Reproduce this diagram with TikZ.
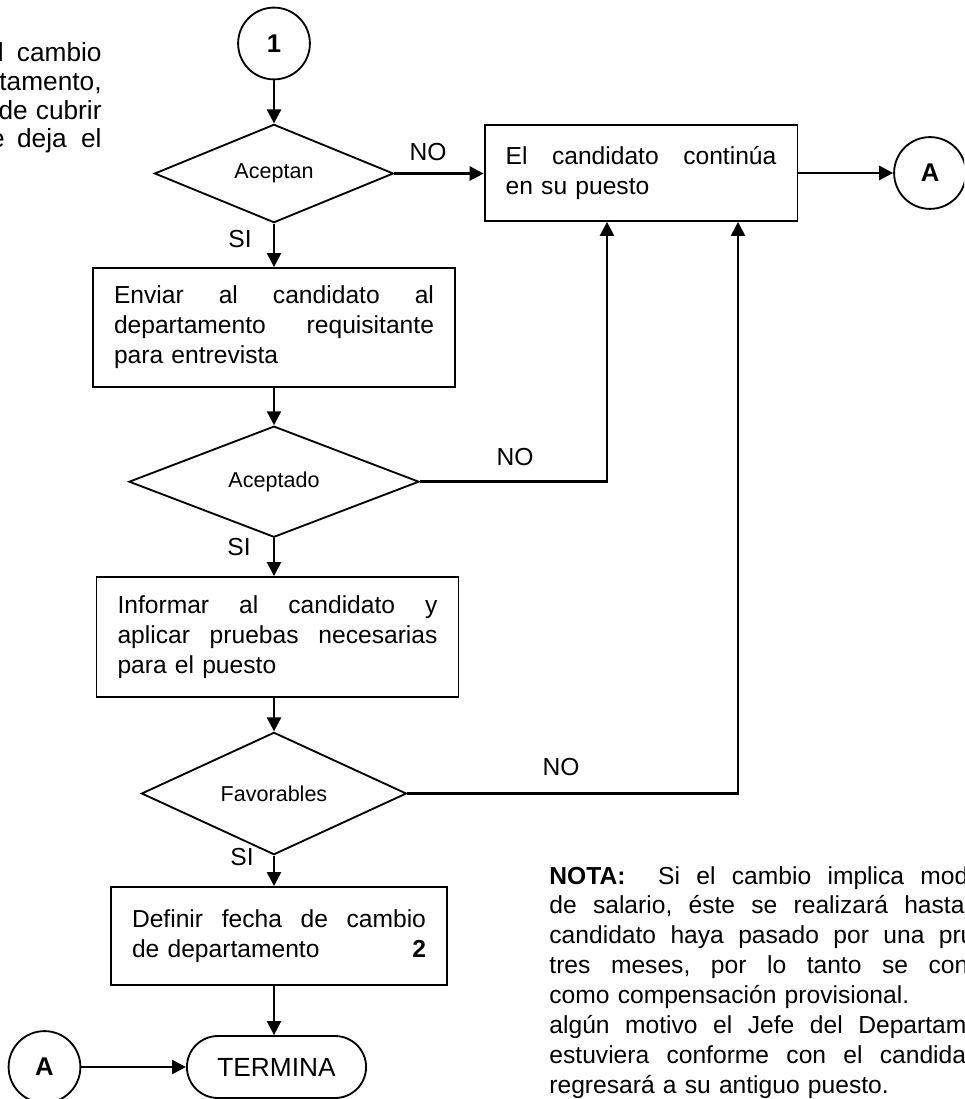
\documentclass[tikz,border=0pt]{standalone}
\usepackage{fontspec}
\setmainfont{Liberation Sans}
\usetikzlibrary{shapes.geometric,shapes.misc,arrows.meta}
% linea justificada a un ancho dado
\newcommand{\lineaj}[2]{\leavevmode\hbox to #1{\frenchspacing\spaceskip=0.278em plus 1fil\relax #2}}
\tikzstyle{con}=[draw,circle,line width=0.9pt,minimum size=35pt,inner sep=0,font=\fontsize{12.5}{15}\selectfont\bfseries]
\tikzstyle{dec}=[draw,diamond,line width=0.9pt,inner sep=0,minimum height=46.3pt,font=\fontsize{10.5}{12}\selectfont]
\tikzstyle{proc}=[draw,rectangle,line width=0.9pt,inner xsep=10.25pt,inner ysep=0,align=left]
\tikzstyle{fin}=[draw,rounded rectangle,line width=0.9pt,minimum width=94pt,minimum height=30.2pt,font=\fontsize{12.8}{15}\selectfont]
\tikzstyle{lbl}=[inner sep=0]
\tikzstyle{flecha}=[line width=1.2pt,-{Triangle[length=6.8pt,width=6.8pt]}]

\begin{document}
\begin{tikzpicture}[x=0.4875pt,y=-0.4875pt,font=\fontsize{12}{14.6}\selectfont]
	\useasboundingbox (0,0) rectangle (964,1099);
	\clip (0,0) rectangle (964,1099);

	% texto de la hoja anterior
	\node[lbl,anchor=base east,align=right,font=\fontsize{12.8}{14.1}\selectfont] (previo) at (102,148)
	{el\hspace{6.5pt}cambio\\ departamento,\\ de\hspace{4pt}cubrir\\ que\hspace{6pt}deja\hspace{7pt}el};

	\node[con] (uno) at (274,43.5) {1};
	\node[dec,minimum width=116.5pt] (aceptan) at (274,173.5) {Aceptan};
	\node[proc,text width=132pt,minimum height=46.8pt] (sigue) at (641,173)
	{\lineaj{132pt}{El candidato continúa}\\ en su puesto};
	\node[con] (a1) at (930,173) {A};

	\node[proc,text width=156pt,minimum height=58pt] (enviar) at (274,327.5)
	{\lineaj{156pt}{Enviar al candidato al}\\ \lineaj{156pt}{departamento requisitante}\\ para entrevista};
	\node[dec,minimum width=141.4pt] (aceptado) at (274,481.7) {Aceptado};
	\node[proc,text width=156pt,minimum height=58.5pt] (informar) at (277.5,637)
	{\lineaj{156pt}{Informar al candidato y}\\ \lineaj{156pt}{aplicar pruebas necesarias}\\ para el puesto};
	\node[dec,minimum width=129.2pt] (favorables) at (274,793.5) {Favorables};
	\node[proc,text width=143.3pt,minimum height=47.8pt] (definir) at (279,936)
	{\lineaj{143.3pt}{Definir fecha de cambio}\\ de departamento\hfill\textbf{2}\hspace*{2.5pt}};
	\node[fin] (termina) at (276.5,1067) {TERMINA};
	\node[con] (a2) at (44.5,1067) {A};

	\coordinate (ret1) at (607,481.7);
	\coordinate (ret2) at (738,793.5);

	% etiquetas
	\node[lbl] (no1) at (428,152) {NO};
	\node[lbl] (no2) at (515,457) {NO};
	\node[lbl] (no3) at (561,767) {NO};
	\node[lbl] (si1) at (240,239) {SI};
	\node[lbl] (si2) at (239,547) {SI};
	\node[lbl] (si3) at (242,857) {SI};

	% nota
	\node[lbl,anchor=base west,text width=247.6pt,align=left] (nota) at (549,884)
	{\lineaj{247.6pt}{\textbf{NOTA:}\ \ Si el cambio implica modificación}\\
	\lineaj{247.6pt}{de salario, éste se realizará hasta que el}\\
	\lineaj{247.6pt}{candidato haya pasado por una prueba de}\\
	\lineaj{247.6pt}{tres meses, por lo tanto se considerará}\\
	como compensación provisional.\\
	\lineaj{247.6pt}{algún motivo el Jefe del Departamento no}\\
	\lineaj{247.6pt}{estuviera conforme con el candidato, éste}\\
	regresará a su antiguo puesto.};

	\draw[flecha] (uno) -- (aceptan);
	\draw[flecha] (aceptan.east) -- (aceptan.east -| sigue.west);
	\draw[flecha] (sigue.east) -- (sigue.east -| a1.west);
	\draw[flecha] (aceptan.south) -- (aceptan.south |- enviar.north);
	\draw[flecha] (aceptan.south |- enviar.south) -- (aceptado.north);
	\draw[flecha] (aceptado.south) -- (aceptado.south |- informar.north);
	\draw[flecha] (aceptado.south |- informar.south) -- (favorables.north);
	\draw[flecha] (favorables.south) -- (favorables.south |- definir.north);
	\draw[flecha] (favorables.south |- definir.south) -- (favorables.south |- termina.north);
	\draw[flecha] (a2) -- (termina);
	\draw[flecha] (aceptado.east) -- (ret1) -- (ret1 |- sigue.south);
	\draw[flecha] (favorables.east) -- (ret2) -- (ret2 |- sigue.south);

\end{tikzpicture}
\end{document}
